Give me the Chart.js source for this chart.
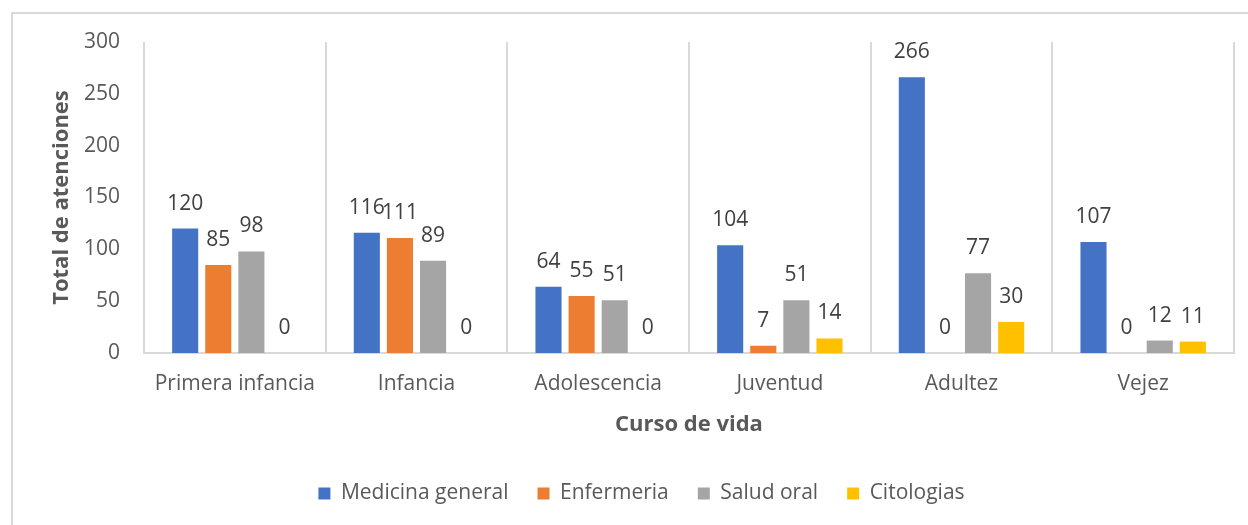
<!DOCTYPE html>
<html>
<head>
<meta charset="utf-8">
<script src="https://cdn.jsdelivr.net/npm/chart.js@4"></script>
<style>
  html, body { margin: 0; padding: 0; background: #fff; overflow: hidden; }
  #frame { position: absolute; left: 11px; top: 12px; width: 1300px; height: 600px;
           border-left: 2px solid #d9d9d9; border-top: 2px solid #d9d9d9; box-sizing: border-box; }
  #wrap { position: absolute; left: 0; top: 0; width: 1248px; height: 525px; }
</style>
</head>
<body>
<div id="frame"></div>
<div id="wrap"><canvas id="chart" width="1248" height="525"></canvas></div>
<script>
const categories = ['Primera infancia', 'Infancia', 'Adolescencia', 'Juventud', 'Adultez', 'Vejez'];
const medicinaGeneral = [120, 116, 64, 104, 266, 107];
const enfermeria = [85, 111, 55, 7, 0, 0];
const saludOral = [98, 89, 51, 51, 77, 12];
const citologias = [0, 0, 0, 14, 30, 11];
const yTicks = [0, 50, 100, 150, 200, 250, 300];

const FONT = "'Open Sans', sans-serif";

// labels over each bar, like excel data labels
const barLabels = {
  id: 'barLabels',
  afterDatasetsDraw(chart) {
    const ctx = chart.ctx;
    ctx.save();
    ctx.font = '21px ' + FONT;
    ctx.fillStyle = '#404040';
    ctx.textAlign = 'center';
    ctx.textBaseline = 'middle';
    chart.data.datasets.forEach((ds, i) => {
      chart.getDatasetMeta(i).data.forEach((bar, j) => {
        ctx.fillText(String(ds.data[j]), bar.x, bar.y - 25);
      });
    });
    ctx.restore();
  }
};

function ds(label, data, color) {
  return {
    label: label,
    data: data,
    backgroundColor: color,
    borderWidth: 0,
    categoryPercentage: 0.729,
    barPercentage: 0.788
  };
}

new Chart(document.getElementById('chart').getContext('2d'), {
  type: 'bar',
  data: {
    labels: categories,
    datasets: [
      ds('Medicina general', medicinaGeneral, '#4472C4'),
      ds('Enfermeria', enfermeria, '#ED7D31'),
      ds('Salud oral', saludOral, '#A5A5A5'),
      ds('Citologias', citologias, '#FFC000')
    ]
  },
  options: {
    responsive: false,
    animation: false,
    layout: { padding: { left: 49, right: 14, top: 42, bottom: 11 } },
    plugins: {
      tooltip: { enabled: false },
      legend: {
        position: 'bottom',
        labels: {
          boxWidth: 12, boxHeight: 12, padding: 29,
          color: '#595959',
          font: { family: FONT, size: 21 }
        }
      }
    },
    scales: {
      x: {
        grid: { display: true, offset: true, color: '#d9d9d9', lineWidth: 2, drawTicks: false },
        border: { display: true, color: '#d9d9d9', width: 2 },
        ticks: { color: '#595959', font: { family: FONT, size: 21 }, padding: 18, maxRotation: 0 },
        title: {
          display: true, text: 'Curso de vida', color: '#595959',
          font: { family: FONT, size: 22, weight: 'bold' },
          padding: { top: 0, bottom: 16 }
        },
        afterFit(scale) { scale.height = 101; }
      },
      y: {
        min: 0, max: 300,
        afterBuildTicks(scale) { scale.ticks = yTicks.map(v => ({ value: v })); },
        grid: { display: false, drawTicks: false },
        border: { display: false },
        ticks: { color: '#595959', font: { family: FONT, size: 21 }, padding: 24 },
        title: {
          display: true, text: 'Total de atenciones', color: '#595959',
          font: { family: FONT, size: 22, weight: 'bold' },
          padding: { top: 0, bottom: 0 }
        },
        afterFit(scale) { scale.width = 95; }
      }
    }
  },
  plugins: [barLabels]
});
</script>
</body>
</html>
